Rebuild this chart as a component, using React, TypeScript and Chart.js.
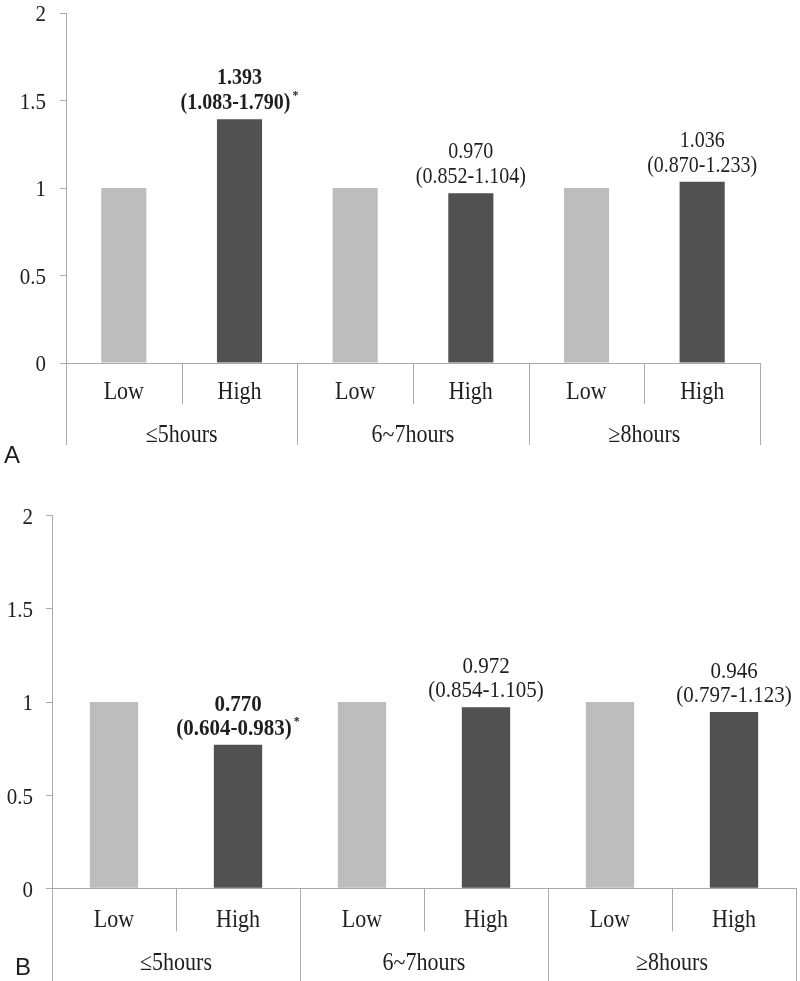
import React, { useEffect, useRef } from 'react';
import { Chart, registerables } from 'chart.js';

Chart.register(...registerables);

// ---------- data ----------
const groups = ['≤5hours', '6~7hours', '≥8hours'];
const levels = ['Low', 'High'];
const yTicks = [0, 0.5, 1, 1.5, 2];

const lowA = [1, 1, 1];
const highA = [1.393, 0.97, 1.036];
const orA = ['1.393', '0.970', '1.036'];
const ciA = ['(1.083-1.790)', '(0.852-1.104)', '(0.870-1.233)'];
const sigA = [true, false, false];

const lowB = [1, 1, 1];
const highB = [0.77, 0.972, 0.946];
const orB = ['0.770', '0.972', '0.946'];
const ciB = ['(0.604-0.983)', '(0.854-1.105)', '(0.797-1.123)'];
const sigB = [true, false, false];

// ---------- styles / layout ----------
const LOW_COLOR = '#bdbdbd';
const HIGH_COLOR = '#515151';
const AXIS = '#aaaaaa';
const TEXT = '#1e1e1e';
const SERIF = '"Liberation Serif", "Times New Roman", serif';
const SY = 1.12;

type Layout = {
  top: number; height: number; left: number; right: number; areaTop: number; areaBottom: number;
  tickRight: number; letterX: number; letterY: number; lblOff: number; rowOff: number; grpOff: number;
  grpBottom: number; annFont: number; annGap: number; annPad: number; tickFont: number; catFont: number;
};

const layoutA: Layout = {
  top: 0, height: 490, left: 66, right: 760, areaTop: 13, areaBottom: 363, tickRight: 46,
  letterX: 4, letterY: 463, lblOff: 36, rowOff: 41, grpOff: 79, grpBottom: 82,
  annFont: 20, annGap: 25, annPad: 10, tickFont: 21, catFont: 22,
};
const layoutB: Layout = {
  top: 490, height: 491, left: 52, right: 796, areaTop: 25.7, areaBottom: 398.3, tickRight: 33,
  letterX: 15, letterY: 485, lblOff: 38.5, rowOff: 43.5, grpOff: 82, grpBottom: 93,
  annFont: 21, annGap: 24, annPad: 10, tickFont: 21, catFont: 22,
};

type PanelData = { letter: string; low: number[]; high: number[]; or: string[]; ci: string[]; sig: boolean[] };

const panelA: PanelData = { letter: 'A', low: lowA, high: highA, or: orA, ci: ciA, sig: sigA };
const panelB: PanelData = { letter: 'B', low: lowB, high: highB, or: orB, ci: ciB, sig: sigB };

function drawText(ctx: CanvasRenderingContext2D, s: string, x: number, y: number, font: string, align: CanvasTextAlign, sy = SY) {
  ctx.save();
  ctx.font = font;
  ctx.fillStyle = TEXT;
  ctx.textAlign = align;
  ctx.textBaseline = 'alphabetic';
  ctx.translate(x, y);
  ctx.scale(1, sy);
  ctx.fillText(s, 0, 0);
  ctx.restore();
}

function PanelChart({ p, L }: { p: PanelData; L: Layout }) {
  const ref = useRef<HTMLCanvasElement>(null);

  useEffect(() => {
    const labels: string[] = [];
    const values: number[] = [];
    const colors: string[] = [];
    groups.forEach((g, i) => {
      labels.push(levels[0], levels[1]);
      values.push(p.low[i], p.high[i]);
      colors.push(LOW_COLOR, HIGH_COLOR);
    });

    const deco = {
      id: 'deco',
      afterDraw(chart: any) {
        const ctx: CanvasRenderingContext2D = chart.ctx;
        const xs = chart.scales.x;
        const ys = chart.scales.y;
        const y0 = Math.round(ys.getPixelForValue(0));

        // y tick labels
        ys.ticks.forEach((t: any) => {
          const y = ys.getPixelForValue(t.value);
          drawText(ctx, String(t.value), L.tickRight, y + 0.36 * L.tickFont * SY, `${L.tickFont}px ${SERIF}`, 'right');
        });

        // category table lines
        ctx.save();
        ctx.strokeStyle = AXIS;
        ctx.lineWidth = 1;
        for (let k = 0; k <= labels.length; k++) {
          const x = Math.round(xs.getPixelForValue(k - 0.5)) + 0.5;
          const bottom = y0 + (k % 2 === 0 ? L.grpBottom : L.rowOff);
          ctx.beginPath();
          ctx.moveTo(x, y0);
          ctx.lineTo(x, bottom);
          ctx.stroke();
        }
        ctx.restore();

        // level labels
        labels.forEach((lab, i) => {
          drawText(ctx, lab, xs.getPixelForValue(i), y0 + L.lblOff, `${L.catFont}px ${SERIF}`, 'center');
        });
        // group labels
        groups.forEach((g, gi) => {
          const cx = (xs.getPixelForValue(2 * gi) + xs.getPixelForValue(2 * gi + 1)) / 2;
          drawText(ctx, g, cx, y0 + L.grpOff, `${L.catFont}px ${SERIF}`, 'center');
        });

        // annotations above High bars
        const meta = chart.getDatasetMeta(0);
        groups.forEach((g, gi) => {
          const el = meta.data[2 * gi + 1];
          const x = el.x;
          const top = el.y;
          const bold = p.sig[gi] ? 'bold ' : '';
          const font = `${bold}${L.annFont}px ${SERIF}`;
          const b2 = top - L.annPad;
          const b1 = b2 - L.annGap;
          drawText(ctx, p.or[gi], x, b1, font, 'center');
          if (p.sig[gi]) {
            ctx.save();
            ctx.font = font;
            const w = ctx.measureText(p.ci[gi]).width;
            const starFont = `${bold}12px ${SERIF}`;
            ctx.font = starFont;
            const sw = ctx.measureText('*').width;
            ctx.restore();
            const total = w + 2 + sw;
            const start = x - total / 2;
            drawText(ctx, p.ci[gi], start, b2, font, 'left');
            drawText(ctx, '*', start + w + 2, b2 - 10, starFont, 'left', 1);
          } else {
            drawText(ctx, p.ci[gi], x, b2, font, 'center');
          }
        });

        // panel letter
        drawText(ctx, p.letter, L.letterX, L.letterY, `24px "Liberation Sans", Arial, sans-serif`, 'left', 1);
      },
    };

    const chart = new Chart(ref.current as HTMLCanvasElement, {
      type: 'bar',
      data: {
        labels,
        datasets: [
          {
            data: values,
            backgroundColor: colors,
            borderWidth: 0,
            categoryPercentage: 1,
            barPercentage: 0.39,
          },
        ],
      },
      options: {
        animation: false,
        responsive: false,
        maintainAspectRatio: false,
        devicePixelRatio: 1,
        layout: { padding: { left: 0, right: 800 - L.right, top: L.areaTop, bottom: 0 } },
        plugins: { legend: { display: false }, tooltip: { enabled: false }, title: { display: false } },
        scales: {
          x: {
            type: 'category',
            offset: true,
            grid: { display: false },
            border: { display: true, color: AXIS, width: 1 },
            ticks: { display: false },
            afterFit: (s: any) => {
              s.height = L.height - L.areaBottom;
            },
          },
          y: {
            min: 0,
            max: 2,
            ticks: { display: false },
            afterBuildTicks: (s: any) => {
              s.ticks = yTicks.map((v) => ({ value: v }));
            },
            grid: { drawOnChartArea: false, drawTicks: true, tickLength: 6, color: AXIS },
            border: { display: true, color: AXIS, width: 1 },
            afterFit: (s: any) => {
              s.width = L.left;
            },
          },
        },
      } as any,
      plugins: [deco],
    });
    return () => chart.destroy();
  }, []);

  return (
    <canvas
      ref={ref}
      width={800}
      height={L.height}
      style={{ position: 'absolute', left: 0, top: L.top, width: 800, height: L.height, display: 'block' }}
    />
  );
}

export default function App() {
  return (
    <div style={{ position: 'absolute', left: 0, top: 0, width: 800, height: 981, background: '#ffffff', overflow: 'hidden' }}>
      <PanelChart p={panelA} L={layoutA} />
      <PanelChart p={panelB} L={layoutB} />
    </div>
  );
}
